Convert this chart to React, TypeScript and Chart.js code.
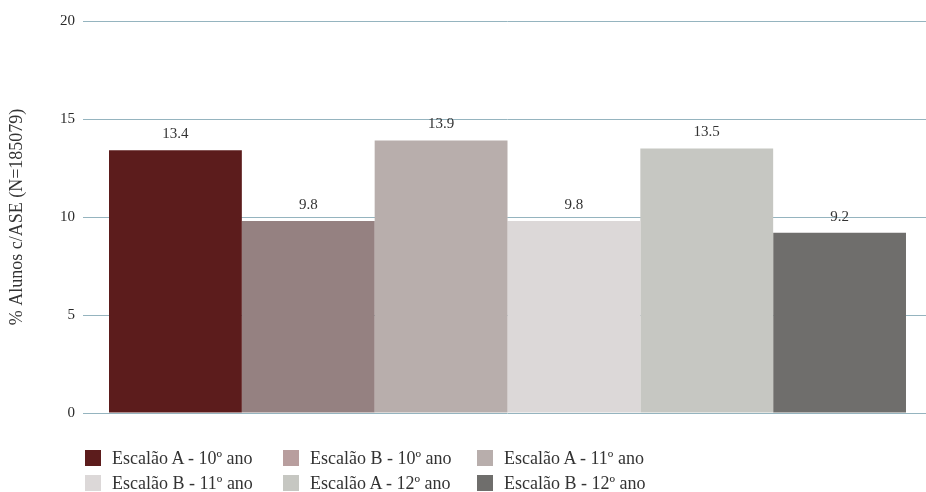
import React, { useEffect, useRef } from "react";
import { Chart, registerables } from "chart.js";

Chart.register(...registerables);

const categories = ["Alunos c/ASE"];
const seriesLabels = [
  "Escalão A - 10º ano",
  "Escalão B - 10º ano",
  "Escalão A - 11º ano",
  "Escalão B - 11º ano",
  "Escalão A - 12º ano",
  "Escalão B - 12º ano",
];
const seriesValues = [13.4, 9.8, 13.9, 9.8, 13.5, 9.2];
const barColors = ["#5c1c1c", "#958181", "#b8aeac", "#dcd8d8", "#c6c7c2", "#6f6e6c"];
const legendColors = ["#5c1c1c", "#b89e9e", "#b8aeac", "#dcd8d8", "#c6c7c2", "#6f6e6c"];
const yMin = 0;
const yMax = 20;
const yStep = 5;
const yTitle = "% Alunos c/ASE (N=185079)";

const FONT = "'Liberation Serif', 'DejaVu Serif', serif";

const valueLabels = {
  id: "valueLabels",
  afterDatasetsDraw(chart: any) {
    const ctx = chart.ctx;
    ctx.save();
    ctx.font = `15px ${FONT}`;
    ctx.fillStyle = "#333333";
    ctx.textAlign = "center";
    ctx.textBaseline = "middle";
    chart.data.datasets.forEach((ds: any, i: number) => {
      const meta = chart.getDatasetMeta(i);
      meta.data.forEach((el: any, j: number) => {
        const v = ds.data[j];
        ctx.fillText(Number(v).toFixed(1), el.x, el.y - 16);
      });
    });
    ctx.restore();
  },
};

export default function App() {
  const ref = useRef<HTMLCanvasElement | null>(null);

  useEffect(() => {
    if (!ref.current) return;
    const chart = new Chart(ref.current, {
      type: "bar",
      data: {
        labels: categories,
        datasets: seriesLabels.map((label, i) => ({
          label,
          data: [seriesValues[i]],
          backgroundColor: barColors[i],
          borderWidth: 0,
          categoryPercentage: 0.9522,
          barPercentage: 1,
        })),
      },
      options: {
        animation: false,
        responsive: false,
        devicePixelRatio: 1,
        layout: { padding: { top: 21, right: 0, bottom: 17, left: 0 } },
        plugins: {
          legend: { display: false },
          tooltip: { enabled: false },
        },
        scales: {
          x: { display: false },
          y: {
            min: yMin,
            max: yMax,
            ticks: {
              stepSize: yStep,
              padding: 8,
              color: "#2a2a2a",
              font: { family: FONT, size: 15 },
            },
            grid: { color: "#95b4bf", lineWidth: 1, drawTicks: true, tickLength: 6 },
            border: { display: false },
            title: {
              display: true,
              text: yTitle,
              color: "#333333",
              font: { family: FONT, size: 18 },
              padding: { top: 6, bottom: 0 },
            },
            afterFit: (s: any) => {
              s.width = 89;
            },
          },
        },
      },
      plugins: [valueLabels],
    });
    return () => chart.destroy();
  }, []);

  return (
    <div style={{ position: "fixed", left: 0, top: 0, width: 926, height: 492, background: "#fff" }}>
      <canvas ref={ref} width={926} height={430} style={{ display: "block" }} />
      <div
        style={{
          position: "absolute",
          left: 85,
          top: 450,
          display: "grid",
          gridTemplateColumns: "198px 194px 194px",
          gridAutoRows: "25px",
          fontFamily: FONT,
          fontSize: 18,
          color: "#333",
        }}
      >
        {seriesLabels.map((l, i) => (
          <div key={i} style={{ display: "flex", alignItems: "flex-start", height: 25 }}>
            <span
              style={{
                display: "inline-block",
                width: 16,
                height: 16,
                background: legendColors[i],
                marginRight: 11,
                flex: "0 0 auto",
              }}
            />
            <span style={{ lineHeight: "16px", whiteSpace: "nowrap" }}>{l}</span>
          </div>
        ))}
      </div>
    </div>
  );
}
